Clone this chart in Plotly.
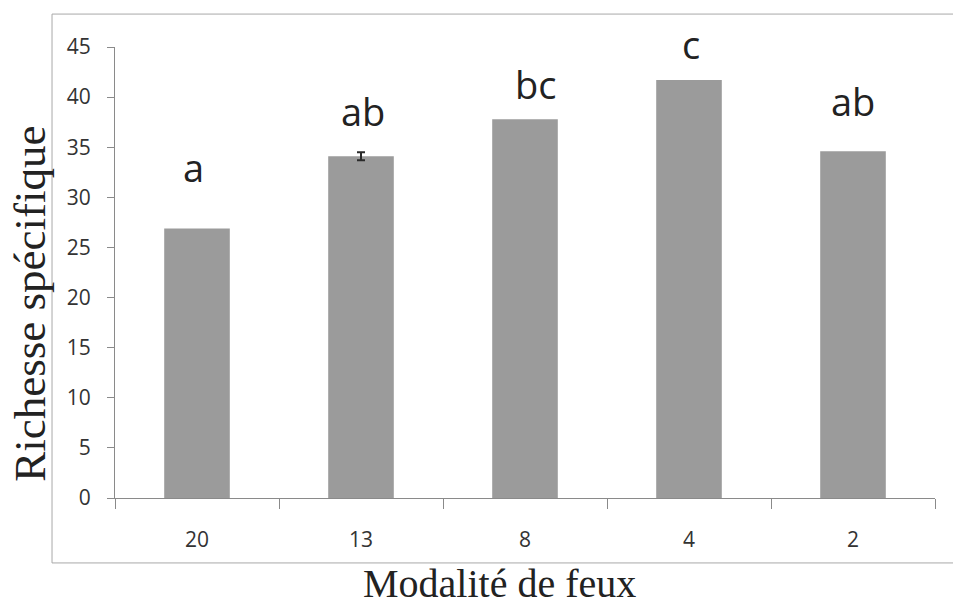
import plotly.graph_objects as go

# Species richness per fire regime
categories = ["20", "13", "8", "4", "2"]
richness = [26.9, 34.1, 37.8, 41.7, 34.6]
# standard error, only reported for the "13" regime
err_category = "13"
err_value = 0.4
groups = ["a", "ab", "bc", "c", "ab"]
y_ticks = [0, 5, 10, 15, 20, 25, 30, 35, 40, 45]
y_max = 45

# heights (data units) where the significance letters sit
letter_y = [33.0, 38.6, 41.3, 45.3, 39.6]
# small horizontal nudges (px) of the letters from the bar centres
letter_dx = [-4, 2, 10, 2, 0]

fig = go.Figure()

fig.add_trace(go.Bar(
    x=categories,
    y=richness,
    marker=dict(color="#9b9b9b", line=dict(width=0)),
    showlegend=False,
))

# error bar drawn on its own so the other bars carry no cap
err_idx = categories.index(err_category)
fig.add_trace(go.Scatter(
    x=[err_category],
    y=[richness[err_idx]],
    mode="markers",
    marker=dict(size=0.1, color="rgba(0,0,0,0)"),
    error_y=dict(type="data", array=[err_value], visible=True,
                 color="#2a2a2a", thickness=2, width=4),
    showlegend=False,
    hoverinfo="skip",
))

# letters: x is the category index, y is given in plot-height fractions
# so that a letter above the top of the axis is still drawn
letter_annotations = [
    dict(text=g, x=i, y=ly / y_max, xref="x", yref="paper", xshift=dx,
         xanchor="center", yanchor="middle", showarrow=False,
         font=dict(family="Open Sans", size=38, color="#222222"))
    for i, (g, ly, dx) in enumerate(zip(groups, letter_y, letter_dx))
]

fig.update_layout(
    width=953,
    height=607,
    margin=dict(l=115, r=18, t=47, b=109),
    paper_bgcolor="white",
    plot_bgcolor="white",
    bargap=0.6,
    xaxis=dict(
        type="category",
        categoryorder="array",
        categoryarray=categories,
        range=[-0.5, len(categories) - 0.5],
        tickson="boundaries",
        ticks="outside",
        ticklen=10,
        tickcolor="#8a8a8a",
        showline=True,
        linecolor="#8a8a8a",
        linewidth=1,
        showgrid=False,
        ticklabelstandoff=23,
        tickfont=dict(family="Open Sans", size=21, color="#333333"),
    ),
    yaxis=dict(
        range=[0, y_max],
        tickvals=y_ticks,
        ticks="outside",
        ticklen=7,
        tickcolor="#8a8a8a",
        showline=True,
        linecolor="#8a8a8a",
        linewidth=1,
        showgrid=False,
        zeroline=False,
        ticklabelstandoff=12,
        tickfont=dict(family="Open Sans", size=21, color="#333333"),
    ),
    shapes=[dict(
        type="rect", xref="paper", yref="paper",
        x0=-0.0768, x1=1.03, y0=-0.144, y1=1.073,
        line=dict(color="#a8a8a8", width=1),
        fillcolor="rgba(0,0,0,0)",
        layer="below",
    )],
    annotations=letter_annotations + [
        dict(text="Modalité de feux", xref="paper", yref="paper",
             x=0.4695, y=-0.189, xanchor="center", yanchor="middle",
             showarrow=False,
             font=dict(family="Liberation Serif", size=40, color="#222222")),
        dict(text="Richesse spécifique", xref="paper", yref="paper",
             x=-0.1037, y=0.4306, xanchor="center", yanchor="middle",
             textangle=-90, showarrow=False,
             font=dict(family="Liberation Serif", size=45, color="#222222")),
    ],
)

fig.write_html("out.html")
